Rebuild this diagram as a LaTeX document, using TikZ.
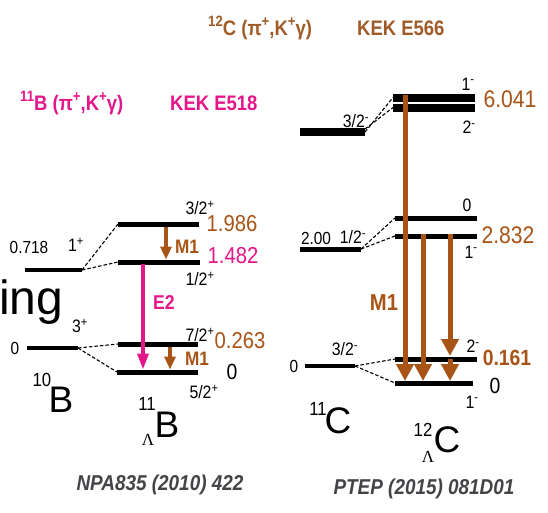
\documentclass[tikz,border=0pt]{standalone}
\usepackage{fontspec}
\setmainfont{Liberation Sans}
\newfontfamily\nar[FakeStretch=0.88]{Liberation Sans}
\newfontfamily\lamf{Liberation Serif}
\usetikzlibrary{arrows.meta}
\definecolor{brn}{RGB}{168,84,22}
\definecolor{brnt}{RGB}{160,92,40}
\definecolor{mag}{RGB}{228,22,138}
\definecolor{refg}{RGB}{68,68,72}
\newcommand{\fsz}[1]{\fontsize{#1}{#1}\selectfont}
\newcommand{\tsup}[1]{\raisebox{0.42em}{\fsz{15}#1}}
\begin{document}
\begin{tikzpicture}[x=1pt,y=-1pt,
  lvb/.style={line width=4pt},
  lvh/.style={line width=5pt},
  lvt/.style={line width=8.5pt},
  dsh/.style={line width=1.1pt,dash pattern=on 3.5pt off 2pt},
  sp/.style={inner sep=0pt,font=\nar\fsz{18}},
  en/.style={inner sep=0pt,font=\nar\fsz{17.5}},
  vb/.style={inner sep=0pt,text=brn,font=\nar\fsz{23}},
  vm/.style={inner sep=0pt,text=mag,font=\nar\fsz{23}},
  ttlm/.style={inner sep=0pt,text=mag,font=\nar\bfseries\fsz{21}},
  ttlb/.style={inner sep=0pt,text=brnt,font=\nar\bfseries\fsz{21}},
  refs/.style={inner sep=0pt,text=refg,font=\nar\bfseries\itshape\fsz{21.5}},
  mass/.style={inner sep=0pt,font=\nar\fsz{19}},
  lam/.style={inner sep=0pt,font=\lamf\fsz{17}},
  big/.style={inner sep=0pt,font=\fsz{37}},
  arb/.style={draw=brn,line width=3.5pt,-{Triangle[length=13pt,width=11pt]}},
  arm/.style={draw=mag,line width=3.5pt,-{Triangle[length=16pt,width=11pt]}},
  arB/.style={draw=brn,line width=5pt,-{Triangle[length=17pt,width=17pt]}},
  trb/.style={inner sep=0pt,text=brn,font=\nar\bfseries\fsz{19.5}},
  trm/.style={inner sep=0pt,text=mag,font=\nar\bfseries\fsz{20}}
]
\fill[white] (0,0) rectangle (548,512);
\useasboundingbox (0,0) rectangle (548,512);

% stray text
\node[inner sep=0pt,anchor=base west,font=\fsz{48}] (ing) at (-1,314) {ing};

% titles
\node[ttlm,anchor=base west] (t1a) at (20,110) {\tsup{11}B (π\tsup{+},K\tsup{+}γ)};
\node[ttlm,anchor=base west] (t1b) at (170,110) {KEK E518};
\node[ttlb,anchor=base west] (t2a) at (208,35) {\tsup{12}C (π\tsup{+},K\tsup{+}γ)};
\node[ttlb,anchor=base west] (t2b) at (357,35) {KEK E566};

% ---------- left: 10B ----------
\coordinate (b1a) at (25,270); \coordinate (b1b) at (82,270);
\coordinate (b0a) at (27,348); \coordinate (b0b) at (78,348);
\draw[lvb] (b1a) -- (b1b);
\draw[lvb] (b0a) -- (b0b);
\node[en] (e0718) at (29,247) {0.718};
\node[sp] (s1p) at (76,245) {1\textsuperscript{+}};
\node[en] (e0b) at (15,348) {0};
\node[sp] (s3p) at (80,326) {3\textsuperscript{+}};
\node[mass] (n10) at (42,380) {10};
\node[big] (nB) at (61,400) {B};

% ---------- left: 11LB ----------
\coordinate (h3a) at (118,224); \coordinate (h3b) at (199,224);
\coordinate (h1a) at (118,262); \coordinate (h1b) at (200,262);
\coordinate (h7a) at (118,344); \coordinate (h7b) at (198,344);
\coordinate (h5a) at (117,372); \coordinate (h5b) at (198,372);
\draw[lvh] (h3a) -- (h3b);
\draw[lvh] (h1a) -- (h1b);
\draw[lvh] (h7a) -- (h7b);
\draw[lvh] (h5a) -- (h5b);
\draw[dsh] (b1b) -- (h3a);
\draw[dsh] (b1b) -- (h1a);
\draw[dsh] (b0b) -- (h7a);
\draw[dsh] (b0b) -- (h5a);

\node[sp] (s32p) at (200,208) {3/2\textsuperscript{+}};
\node[sp] (s12p) at (200,279) {1/2\textsuperscript{+}};
\node[sp] (s72p) at (200,335) {7/2\textsuperscript{+}};
\node[sp] (s52p) at (204,392) {5/2\textsuperscript{+}};
\node[vb] (v1986) at (232,224) {1.986};
\node[vm] (v1482) at (233,256) {1.482};
\node[vb] (v0263) at (240,341) {0.263};
\node[inner sep=0pt,font=\nar\fsz{22}] (v0l) at (232,372) {0};

\coordinate (m1s) at (166,227); \coordinate (m1e) at (166,259.5);
\coordinate (e2s) at (143,264); \coordinate (e2e) at (143,369.5);
\coordinate (m2s) at (170,347); \coordinate (m2e) at (170,369.5);
\draw[arb] (m1s) -- (m1e);
\draw[arm] (e2s) -- (e2e);
\draw[arb] (m2s) -- (m2e);
\node[trb] (lm1) at (187,247) {M1};
\node[trm] (le2) at (164,303) {E2};
\node[trb] (lm2) at (197,359) {M1};

\node[mass] (n11) at (147,404) {11};
\node[lam] (nL1) at (148,440) {Λ};
\node[big] (nB2) at (167,425) {B};

\node[refs] (r1) at (160,485) {NPA835 (2010) 422};

% ---------- right: 11C ----------
\coordinate (c3a) at (300,132); \coordinate (c3b) at (365,132);
\coordinate (c1a) at (300,249); \coordinate (c1b) at (361,249);
\coordinate (c0a) at (305,366); \coordinate (c0b) at (355,366);
\draw[lvt] (c3a) -- (c3b);
\draw[lvh] (c1a) -- (c1b);
\draw[lvb] (c0a) -- (c0b);
\node[sp] (s32m) at (356,121) {3/2\textsuperscript{-}};
\node[en] (e200) at (316,238) {2.00};
\node[sp] (s12m) at (353,237) {1/2\textsuperscript{-}};
\node[en] (e0c) at (294,366) {0};
\node[sp] (s32m2) at (345,349) {3/2\textsuperscript{-}};
\node[mass] (n11c) at (318,409) {11};
\node[big] (nC) at (338,421) {C};

% ---------- right: 12LC ----------
\coordinate (u1a) at (393,97.5); \coordinate (u1b) at (475,97.5);
\coordinate (u2a) at (393,107.5); \coordinate (u2b) at (475,107.5);
\coordinate (k0a) at (395,218); \coordinate (k0b) at (477,218);
\coordinate (k1a) at (395,236); \coordinate (k1b) at (477,236);
\coordinate (g2a) at (395,359); \coordinate (g2b) at (477,359);
\coordinate (g1a) at (395,383); \coordinate (g1b) at (473,383);
\draw[line width=8pt] (u1a) -- (u1b);
\draw[line width=8pt] (u2a) -- (u2b);
\draw[lvh] (k0a) -- (k0b);
\draw[lvh] (k1a) -- (k1b);
\draw[lvh] (g2a) -- (g2b);
\draw[lvh] (g1a) -- (g1b);

\draw[dsh] (c3b) -- (u1a);
\draw[dsh] ([yshift=3pt]c3b) -- (u2a);
\draw[dsh] (c1b) -- (k0a);
\draw[dsh] (c1b) -- (k1a);
\draw[dsh] (c0b) -- (g2a);
\draw[dsh] (c0b) -- (g1a);

\node[sp] (s1mu) at (468,84) {1\textsuperscript{-}};
\node[sp] (s2mu) at (469,127) {2\textsuperscript{-}};
\node[inner sep=0pt,text=brn,font=\nar\fsz{24}] (v6041) at (510,99) {6.041};
\node[sp] (s0k) at (467,205) {0};
\node[sp] (s1mk) at (471,252) {1\textsuperscript{-}};
\node[inner sep=0pt,text=brn,font=\nar\fsz{24}] (v2832) at (508,235) {2.832};
\node[sp] (s2mg) at (473,346) {2\textsuperscript{-}};
\node[inner sep=0pt,text=brn,font=\nar\bfseries\fsz{22}] (v0161) at (507,358) {0.161};
\node[inner sep=0pt,font=\nar\fsz{22}] (v0r) at (495,386) {0};
\node[sp] (s1mg) at (472,402) {1\textsuperscript{-}};

\coordinate (a1s) at (405,95); \coordinate (a1e) at (405,381);
\coordinate (a2s) at (423,234); \coordinate (a2e) at (423,381);
\coordinate (a3s) at (450,234); \coordinate (a3e) at (450,356);
\coordinate (a4s) at (450,359); \coordinate (a4e) at (450,381);
\draw[arB] (a1s) -- (a1e);
\draw[arB] (a2s) -- (a2e);
\draw[arB] (a3s) -- (a3e);
\draw[arB] (a4s) -- (a4e);
\node[inner sep=0pt,text=brn,font=\nar\bfseries\fsz{23}] (rm1) at (384,303) {M1};

\node[mass] (n12) at (423,430) {12};
\node[lam] (nL2) at (428,457) {Λ};
\node[big] (nC2) at (447,440) {C};

\node[refs] (r2) at (424,489) {PTEP (2015) 081D01};
\end{tikzpicture}
\end{document}
